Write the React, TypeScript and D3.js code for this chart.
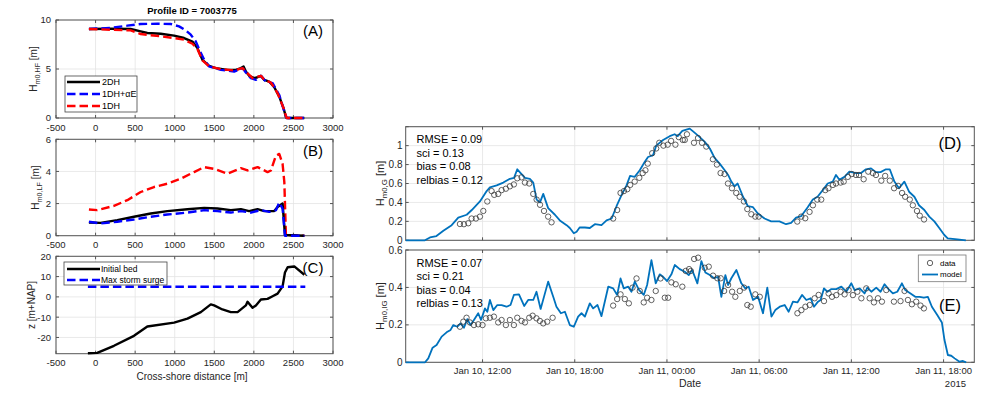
import * as d3 from 'd3';

const FONT = "'Liberation Sans', Arial, Helvetica, sans-serif";

// ---- left column: cross-shore profiles (distance [m], value) ----
const hf2DH = [[-84,9.08],[190,9.1],[443,9.08],[570,8.84],[654,8.67],[823,8.6],[992,8.4],[1118,8.16],[1224,7.8],[1287,7.13],[1350,5.94],[1435,5.32],[1519,5.09],[1667,4.91],[1772,4.91],[1836,5.09],[1870,5.26],[1899,4.74],[1941,4.3],[2005,4.06],[2047,4.16],[2089,4.3],[2131,3.89],[2194,3.72],[2258,3.14],[2321,2.18],[2376,0.99],[2405,0.07],[2427,0],[2638,0]];
const hf1DHaE = [[-84,9.08],[190,9.2],[401,9.42],[570,9.59],[781,9.62],[950,9.59],[1055,9.35],[1139,8.94],[1203,8.5],[1266,7.82],[1308,7.03],[1372,5.94],[1435,5.26],[1583,4.91],[1751,4.74],[1857,5.09],[1899,4.64],[1963,4.06],[2026,3.89],[2089,4.3],[2152,3.72],[2237,3.55],[2321,2.35],[2385,0.65],[2414,0],[2638,0]];
const hf1DH = [[-84,9.08],[190,9.01],[443,8.94],[570,8.57],[823,8.33],[992,8.16],[1118,7.99],[1224,7.58],[1287,7.03],[1350,5.87],[1435,5.26],[1583,4.98],[1751,4.85],[1857,5.09],[1910,4.64],[1983,4.06],[2089,4.3],[2131,3.89],[2216,3.62],[2300,2.53],[2376,0.99],[2414,0],[2638,0]];

const lf2DH = [[-84,0.82],[63,0.8],[274,0.97],[485,1.18],[697,1.38],[907,1.53],[1161,1.65],[1372,1.73],[1540,1.69],[1709,1.59],[1836,1.65],[1941,1.53],[2047,1.65],[2131,1.53],[2258,1.53],[2300,1.79],[2363,2.0],[2393,0.04],[2638,0]];
const lf1DHaE = [[-84,0.87],[63,0.76],[274,0.87],[485,1.01],[697,1.18],[907,1.32],[1161,1.44],[1372,1.59],[1540,1.53],[1709,1.44],[1836,1.53],[1963,1.44],[2089,1.59],[2194,1.48],[2279,1.59],[2321,2.06],[2363,1.69],[2393,0],[2638,0]];
const lf1DH = [[-84,1.63],[21,1.59],[232,1.86],[401,2.21],[570,2.72],[738,3.03],[907,3.24],[1076,3.55],[1245,3.96],[1372,4.27],[1498,4.16],[1667,3.86],[1836,4.2],[1920,4.06],[2047,4.27],[2173,3.96],[2216,4.06],[2279,4.99],[2321,5.09],[2363,4.47],[2385,3.34],[2405,0.04],[2638,0]];

const bed = [[-97,-27.8],[21,-27.6],[232,-24.1],[485,-19.2],[654,-14.6],[992,-12.7],[1161,-10.7],[1330,-7.5],[1456,-3.7],[1498,-4.2],[1603,-6.2],[1709,-7.5],[1794,-7.5],[1899,-4.2],[1920,-2.4],[1983,-5.4],[2026,-4.2],[2089,-1.3],[2173,-1.0],[2237,0.3],[2300,1.6],[2363,5.2],[2393,12.0],[2427,14.6],[2511,15.0],[2638,10.9]];
const surge = [[-97,5],[2650,5]];

const distTicks = [-500,0,500,1000,1500,2000,2500,3000];

// ---- right column: time series (hours since Jan 10 2015 00:00, value) ----
const gModel = [[7,0],[8.25,0],[8.58,0.03],[9.0,0.045],[9.45,0.1],[9.99,0.16],[10.42,0.24],[10.97,0.27],[11.3,0.32],[11.83,0.41],[12.27,0.52],[12.48,0.56],[12.92,0.58],[13.35,0.61],[13.78,0.65],[14.05,0.66],[14.26,0.75],[14.54,0.7],[14.76,0.66],[15.08,0.65],[15.3,0.61],[15.52,0.43],[15.74,0.4],[15.95,0.49],[16.27,0.34],[16.71,0.27],[17.03,0.21],[17.47,0.16],[17.68,0.13],[17.94,0.074],[18.12,0.09],[18.33,0.137],[18.66,0.135],[18.98,0.13],[19.31,0.17],[19.74,0.16],[20.07,0.21],[20.4,0.23],[20.72,0.36],[21.05,0.48],[21.37,0.58],[21.6,0.68],[21.9,0.67],[22.23,0.74],[22.56,0.83],[22.77,0.88],[23.1,0.9],[23.3,1.0],[23.75,1.06],[24.18,1.1],[24.5,1.12],[24.7,1.1],[25.0,1.155],[25.48,1.18],[25.7,1.15],[26.1,1.095],[26.46,1.04],[26.79,0.97],[27.1,0.87],[27.43,0.81],[27.76,0.74],[27.98,0.69],[28.19,0.62],[28.4,0.57],[28.6,0.6],[28.95,0.46],[29.27,0.36],[29.6,0.35],[29.9,0.285],[30.35,0.23],[30.78,0.2],[31.32,0.2],[31.75,0.17],[32.08,0.185],[32.4,0.24],[32.73,0.255],[33.16,0.35],[33.49,0.43],[33.8,0.46],[34.14,0.53],[34.46,0.6],[34.79,0.62],[35.0,0.69],[35.22,0.64],[35.55,0.67],[35.87,0.725],[36.3,0.71],[36.63,0.71],[36.95,0.75],[37.28,0.76],[37.6,0.72],[37.9,0.72],[38.25,0.75],[38.5,0.75],[38.8,0.62],[39.1,0.55],[39.45,0.62],[39.77,0.51],[40.1,0.46],[40.4,0.37],[40.75,0.32],[41.07,0.25],[41.4,0.2],[41.72,0.13],[42.05,0.056],[42.27,0.02],[42.9,0.01],[43.45,0]];
const gData = [[10.53,0.172],[10.79,0.17],[11.07,0.18],[11.29,0.23],[11.57,0.23],[11.83,0.25],[12.05,0.31],[12.31,0.41],[12.59,0.52],[12.76,0.48],[13.02,0.49],[13.24,0.53],[13.52,0.545],[13.78,0.57],[14.04,0.59],[14.26,0.655],[14.54,0.665],[14.76,0.61],[15.04,0.6],[15.3,0.49],[15.52,0.43],[15.74,0.375],[16.0,0.31],[16.27,0.25],[16.49,0.19],[20.5,0.23],[20.76,0.32],[20.98,0.5],[21.2,0.52],[21.42,0.54],[21.61,0.585],[21.9,0.62],[22.2,0.66],[22.42,0.71],[22.6,0.74],[22.75,0.81],[23.04,0.92],[23.3,0.97],[23.5,1.03],[23.77,1.0],[24.05,1.01],[24.27,1.05],[24.55,1.01],[24.77,1.09],[25.03,1.06],[25.3,1.12],[25.16,1.06],[25.76,1.03],[26.02,1.08],[26.28,1.03],[26.56,0.99],[26.99,0.856],[27.25,0.8],[27.49,0.71],[27.75,0.7],[27.97,0.6],[28.23,0.55],[28.51,0.5],[28.73,0.46],[29.01,0.41],[29.23,0.33],[29.49,0.275],[29.75,0.25],[29.97,0.25],[32.48,0.198],[32.74,0.25],[33.0,0.233],[33.28,0.3],[33.5,0.37],[33.78,0.43],[34.04,0.43],[34.3,0.53],[34.51,0.55],[34.8,0.585],[35.0,0.6],[35.3,0.61],[35.5,0.62],[35.77,0.67],[36.03,0.7],[36.3,0.69],[36.5,0.69],[36.8,0.645],[37.1,0.725],[37.4,0.71],[37.6,0.69],[37.95,0.63],[38.2,0.68],[38.5,0.63],[38.78,0.55],[39.04,0.575],[39.3,0.5],[39.5,0.46],[39.8,0.43],[40.0,0.37],[40.27,0.31],[40.45,0.26],[40.73,0.22]];

const igModel = [[7,0],[8.26,0],[8.47,0.021],[8.75,0.078],[9.01,0.092],[9.34,0.137],[9.66,0.16],[9.92,0.173],[10.1,0.199],[10.36,0.19],[10.57,0.208],[10.79,0.185],[11.01,0.231],[11.22,0.199],[11.44,0.226],[11.72,0.262],[11.9,0.226],[12.16,0.288],[12.31,0.27],[12.48,0.333],[12.7,0.279],[12.96,0.306],[13.24,0.306],[13.56,0.297],[13.82,0.306],[14.04,0.36],[14.37,0.363],[14.71,0.301],[14.97,0.333],[15.3,0.333],[15.51,0.377],[15.78,0.285],[16.27,0.431],[16.6,0.35],[16.81,0.297],[17.1,0.262],[17.36,0.27],[17.68,0.199],[17.94,0.19],[18.22,0.244],[18.44,0.262],[18.66,0.244],[18.98,0.315],[19.2,0.288],[19.48,0.306],[19.74,0.247],[20.18,0.404],[20.5,0.395],[20.76,0.36],[20.98,0.448],[21.19,0.395],[21.48,0.404],[21.69,0.377],[21.91,0.431],[22.19,0.386],[22.49,0.36],[22.71,0.413],[22.99,0.546],[23.27,0.422],[23.53,0.47],[23.75,0.457],[24.01,0.434],[24.29,0.47],[24.51,0.52],[24.83,0.498],[25.16,0.484],[25.42,0.466],[25.64,0.493],[25.98,0.422],[26.24,0.541],[26.5,0.48],[26.79,0.466],[27.07,0.449],[27.33,0.457],[27.54,0.35],[27.8,0.466],[27.98,0.413],[28.19,0.449],[28.52,0.493],[28.84,0.422],[29.1,0.395],[29.32,0.404],[29.6,0.333],[29.93,0.35],[30.25,0.262],[30.53,0.399],[30.8,0.244],[31.05,0.279],[31.34,0.297],[31.66,0.306],[31.92,0.27],[32.2,0.324],[32.49,0.32],[32.79,0.36],[33.07,0.333],[33.35,0.342],[33.57,0.297],[33.83,0.324],[34.0,0.333],[34.22,0.395],[34.44,0.377],[34.7,0.391],[35.02,0.391],[35.35,0.404],[35.67,0.377],[36.0,0.422],[36.21,0.386],[36.54,0.395],[36.86,0.368],[37.04,0.399],[37.3,0.377],[37.62,0.399],[37.9,0.377],[38.16,0.417],[38.42,0.391],[38.7,0.368],[38.99,0.377],[39.29,0.422],[39.51,0.386],[39.85,0.368],[40.16,0.35],[40.44,0.35],[40.72,0.345],[40.98,0.35],[41.24,0.297],[41.59,0.253],[41.89,0.213],[42.06,0.119],[42.28,0.039],[42.5,0.035],[42.72,0.021],[43.04,0.003],[43.26,0.007],[43.47,0]];
const igData = [[10.53,0.19],[10.75,0.217],[10.96,0.238],[11.18,0.213],[11.44,0.199],[11.72,0.203],[12.0,0.199],[12.22,0.235],[12.48,0.238],[12.74,0.244],[13.02,0.213],[13.24,0.226],[13.52,0.199],[13.78,0.226],[14.04,0.199],[14.26,0.238],[14.54,0.221],[14.76,0.213],[15.04,0.238],[15.26,0.249],[15.51,0.235],[15.73,0.221],[15.95,0.208],[16.21,0.217],[16.56,0.238],[20.5,0.303],[20.76,0.338],[20.98,0.363],[21.26,0.338],[21.52,0.315],[21.76,0.399],[22.02,0.448],[22.23,0.381],[22.49,0.32],[22.71,0.345],[22.99,0.333],[23.27,0.381],[23.58,0.448],[23.86,0.345],[24.08,0.345],[24.29,0.427],[24.57,0.417],[25.0,0.404],[25.22,0.488],[25.44,0.498],[25.55,0.488],[25.77,0.552],[26.03,0.559],[26.46,0.505],[26.72,0.511],[27.0,0.463],[27.28,0.449],[27.5,0.449],[27.72,0.381],[27.98,0.413],[28.24,0.377],[28.45,0.35],[28.74,0.381],[29.02,0.399],[29.23,0.306],[29.45,0.297],[29.75,0.363],[30.04,0.35],[32.49,0.262],[32.75,0.279],[33.01,0.297],[33.29,0.306],[33.61,0.342],[33.87,0.36],[34.22,0.327],[34.52,0.368],[34.74,0.35],[35.02,0.359],[35.3,0.377],[35.56,0.363],[35.82,0.386],[36.1,0.359],[36.39,0.377],[36.65,0.342],[36.97,0.395],[37.19,0.342],[37.47,0.32],[37.73,0.342],[37.99,0.324],[38.27,0.386],[38.77,0.324],[39.2,0.327],[39.46,0.381],[39.68,0.333],[39.94,0.31],[40.22,0.324],[40.5,0.303],[40.72,0.288]];

const timeTickHours = [12, 18, 24, 30, 36, 42];
const gStats = ['RMSE = 0.09', 'sci = 0.13', 'bias = 0.08', 'relbias = 0.12'];
const igStats = ['RMSE = 0.07', 'sci = 0.21', 'bias = 0.04', 'relbias = 0.13'];

const T0 = Date.UTC(2015, 0, 10);
const toDate = (h: number) => new Date(T0 + h * 3600e3);

const AXIS = '#555';
const GRID = '#e3e3e3';
const TXT = '#262626';
const DASH = '8.5,4';

type Sc = (v: any) => number;

function Frame({ x, y, xt, yt, xl, xr, yb, ytop }: { x: Sc; y: Sc; xt: any[]; yt: number[]; xl: number; xr: number; yb: number; ytop: number }) {
  return (
    <g>
      {xt.map((t, i) => (
        <line key={'gx' + i} x1={x(t)} x2={x(t)} y1={yb} y2={ytop} stroke={GRID} strokeWidth={0.8} />
      ))}
      {yt.map((t, i) => (
        <line key={'gy' + i} x1={xl} x2={xr} y1={y(t)} y2={y(t)} stroke={GRID} strokeWidth={0.8} />
      ))}
      {xt.map((t, i) => (
        <g key={'tx' + i}>
          <line x1={x(t)} x2={x(t)} y1={yb} y2={yb - 3} stroke={AXIS} />
          <line x1={x(t)} x2={x(t)} y1={ytop} y2={ytop + 3} stroke={AXIS} />
        </g>
      ))}
      {yt.map((t, i) => (
        <g key={'ty' + i}>
          <line x1={xl} x2={xl + 3} y1={y(t)} y2={y(t)} stroke={AXIS} />
          <line x1={xr} x2={xr - 3} y1={y(t)} y2={y(t)} stroke={AXIS} />
        </g>
      ))}
      <rect x={xl} y={ytop} width={xr - xl} height={yb - ytop} fill="none" stroke={AXIS} strokeWidth={1} />
    </g>
  );
}

function YLabel({ x, y, main, sub, rest, size = 10 }: { x: number; y: number; main: string; sub?: string; rest: string; size?: number }) {
  return (
    <text transform={`translate(${x},${y}) rotate(-90)`} textAnchor="middle" dy="0.35em" fontSize={size} fill={TXT}>
      {main}
      {sub && (
        <tspan dy={3} fontSize={size * 0.72}>
          {sub}
        </tspan>
      )}
      <tspan dy={sub ? -3 : 0}>{rest}</tspan>
    </text>
  );
}

function LeftPanel({ ytop, yb, ydom, yticks, lines, label, showXLabels = true }: any) {
  const x = d3.scaleLinear().domain([-500, 3000]).range([56, 333]);
  const y = d3.scaleLinear().domain(ydom).range([yb, ytop]);
  const line = d3.line<number[]>().x((d) => x(d[0])).y((d) => y(d[1]));
  return (
    <g>
      <Frame x={x} y={y} xt={distTicks} yt={yticks} xl={56} xr={333} yb={yb} ytop={ytop} />
      {lines.map((l: any, i: number) => (
        <path key={i} d={line(l.data) || ''} fill="none" stroke={l.color} strokeWidth={2.4} strokeDasharray={l.dash ? DASH : undefined} strokeLinejoin="round" />
      ))}
      {yticks.map((t: number) => (
        <text key={t} x={51} y={y(t)} dy="0.35em" textAnchor="end" fontSize={9.5} fill={TXT}>
          {t}
        </text>
      ))}
      {showXLabels &&
        distTicks.map((t) => (
          <text key={t} x={x(t)} y={yb + 12.5} textAnchor="middle" fontSize={9.5} fill={TXT}>
            {t}
          </text>
        ))}
      <text x={313} y={ytop + 11} dy="0.35em" textAnchor="middle" fontSize={15} fill="#000">
        {label}
      </text>
    </g>
  );
}

function RightPanel({ ytop, yb, ydom, yticks, ylabels, model, data, stats, label, labelY, showX }: any) {
  const x = d3.scaleUtc().domain([toDate(7), toDate(44)]).range([405.7, 974.3]);
  const y = d3.scaleLinear().domain(ydom).range([yb, ytop]);
  const line = d3.line<number[]>().x((d) => x(toDate(d[0]))).y((d) => y(d[1]));
  const tt = timeTickHours.map(toDate);
  const fmt = d3.utcFormat('%b %d, %H:%M');
  return (
    <g>
      <Frame x={x} y={y} xt={tt} yt={yticks} xl={405.7} xr={974.3} yb={yb} ytop={ytop} />
      <path d={line(model) || ''} fill="none" stroke="#0072BD" strokeWidth={1.8} strokeLinejoin="round" />
      {data.map((d: number[], i: number) => (
        <circle key={i} cx={x(toDate(d[0]))} cy={y(d[1])} r={2.7} fill="none" stroke="#3a3a3a" strokeWidth={0.8} />
      ))}
      {ylabels.map((t: number) => (
        <text key={t} x={402.5} y={y(t)} dy="0.35em" textAnchor="end" fontSize={10} fill={TXT}>
          {t}
        </text>
      ))}
      {showX &&
        tt.map((t, i) => (
          <text key={i} x={x(t)} y={yb + 12} textAnchor="middle" fontSize={9.5} fill={TXT}>
            {fmt(t)}
          </text>
        ))}
      {stats.map((s: string, i: number) => (
        <text key={s} x={416.5} y={ytop + 16.5 + i * 13.6} fontSize={11} fill="#000">
          {s}
        </text>
      ))}
      <text x={950} y={labelY} dy="0.35em" textAnchor="middle" fontSize={16.5} fill="#000">
        {label}
      </text>
    </g>
  );
}

export default function App() {
  return (
    <svg width={1003} height={394} style={{ position: 'absolute', left: 0, top: 0, background: '#fff' }} fontFamily={FONT}>
      <rect width={1003} height={394} fill="#fff" />
      <text x={192} y={13.5} textAnchor="middle" fontSize={9.5} fontWeight="bold" fill="#000">
        Profile ID = 7003775
      </text>

      <LeftPanel
        ytop={20}
        yb={118}
        ydom={[0, 10]}
        yticks={[0, 5, 10]}
        label="(A)"
        lines={[
          { data: hf2DH, color: '#000' },
          { data: hf1DHaE, color: '#0000ff', dash: true },
          { data: hf1DH, color: '#ff0000', dash: true },
        ]}
      />
      <YLabel x={33} y={69} main="H" sub="m0,HF" rest=" [m]" />
      <g>
        <rect x={65} y={76} width={72} height={36} fill="#fff" stroke="#444" strokeWidth={0.8} />
        <line x1={67} x2={100} y1={82} y2={82} stroke="#000" strokeWidth={2.4} />
        <line x1={67} x2={100} y1={94} y2={94} stroke="#0000ff" strokeWidth={2.4} strokeDasharray={DASH} />
        <line x1={67} x2={100} y1={106} y2={106} stroke="#ff0000" strokeWidth={2.4} strokeDasharray={DASH} />
        <text x={102} y={85} fontSize={9} fill="#000">2DH</text>
        <text x={102} y={97} fontSize={9} fill="#000">1DH+αE</text>
        <text x={102} y={109} fontSize={9} fill="#000">1DH</text>
      </g>

      <LeftPanel
        ytop={139.3}
        yb={235.7}
        ydom={[0, 6]}
        yticks={[0, 2, 4, 6]}
        label="(B)"
        lines={[
          { data: lf1DH, color: '#ff0000', dash: true },
          { data: lf2DH, color: '#000' },
          { data: lf1DHaE, color: '#0000ff', dash: true },
        ]}
      />
      <YLabel x={35} y={187.5} main="H" sub="m0,LF" rest=" [m]" />

      <LeftPanel
        ytop={256.3}
        yb={353.7}
        ydom={[-28, 20]}
        yticks={[-20, -10, 0, 10, 20]}
        label="(C)"
        lines={[
          { data: bed, color: '#000' },
          { data: surge, color: '#0000ff', dash: true },
        ]}
      />
      <YLabel x={31} y={305} main="z [m+NAP]" rest="" />
      <text x={192} y={380} textAnchor="middle" fontSize={10} fill={TXT}>
        Cross-shore distance [m]
      </text>
      <g>
        <rect x={64} y={262} width={103} height={23} fill="#fff" stroke="#444" strokeWidth={0.8} />
        <line x1={67} x2={100} y1={269} y2={269} stroke="#000" strokeWidth={2.4} />
        <line x1={67} x2={100} y1={280} y2={280} stroke="#0000ff" strokeWidth={2.4} strokeDasharray={DASH} />
        <text x={101} y={272} fontSize={8.5} fill="#000">Initial bed</text>
        <text x={101} y={283} fontSize={8.5} fill="#000">Max storm surge</text>
      </g>

      <RightPanel
        ytop={126.7}
        yb={240.3}
        ydom={[0, 1.2]}
        yticks={[0, 0.2, 0.4, 0.6, 0.8, 1, 1.2]}
        ylabels={[0, 0.2, 0.4, 0.6, 0.8, 1]}
        model={gModel}
        data={gData}
        stats={gStats}
        label="(D)"
        labelY={143}
        showX={false}
      />
      <YLabel x={380} y={183.5} main="H" sub="m0,G" rest=" [m]" size={11} />

      <RightPanel
        ytop={250}
        yb={362.3}
        ydom={[0, 0.6]}
        yticks={[0, 0.2, 0.4, 0.6]}
        ylabels={[0, 0.2, 0.4, 0.6]}
        model={igModel}
        data={igData}
        stats={igStats}
        label="(E)"
        labelY={305}
        showX={true}
      />
      <YLabel x={380} y={306} main="H" sub="m0,IG" rest=" [m]" size={11} />
      <text x={690} y={387} textAnchor="middle" fontSize={10.5} fill={TXT}>
        Date
      </text>
      <text x={966} y={387} textAnchor="end" fontSize={9.5} fill={TXT}>
        2015
      </text>
      <g>
        <rect x={918.3} y={255} width={47.7} height={26.7} fill="#fff" stroke="#777" strokeWidth={0.8} />
        <circle cx={930} cy={263} r={2.7} fill="none" stroke="#3a3a3a" strokeWidth={0.8} />
        <line x1={922} x2={938} y1={274.5} y2={274.5} stroke="#0072BD" strokeWidth={1.8} />
        <text x={940} y={265.8} fontSize={8} fill="#000">data</text>
        <text x={940} y={277.3} fontSize={8} fill="#000">model</text>
      </g>
    </svg>
  );
}
